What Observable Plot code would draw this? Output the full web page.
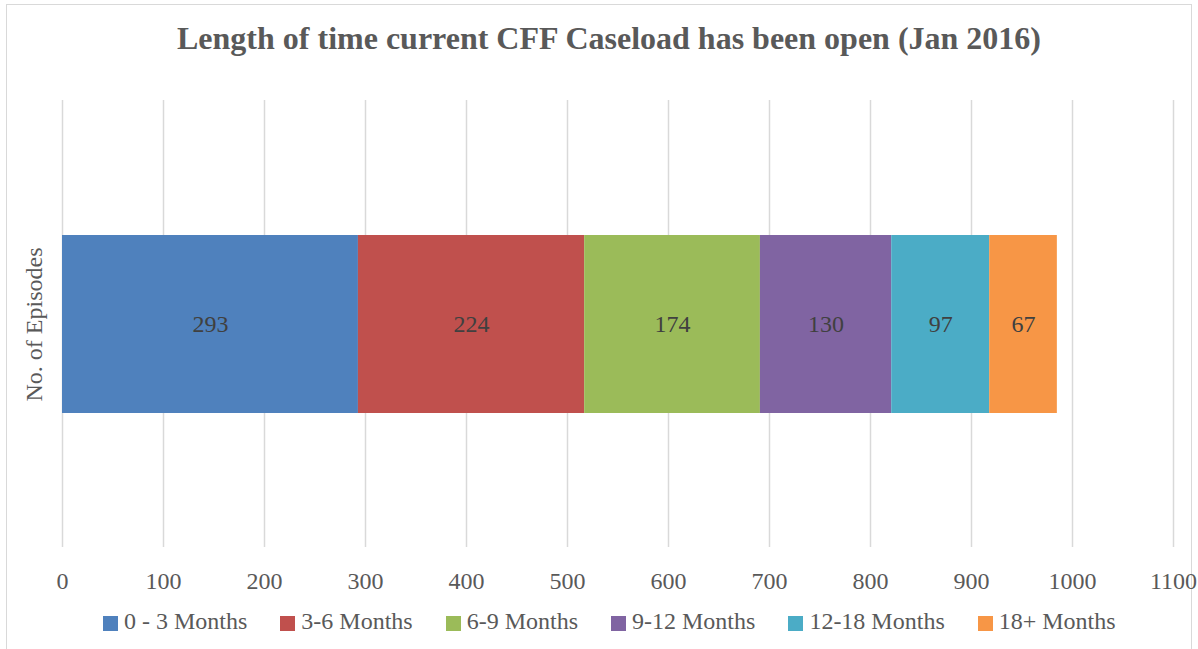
<!DOCTYPE html>
<html>
<head>
<meta charset="utf-8">
<script src="https://cdn.jsdelivr.net/npm/d3@7"></script>
<script src="https://cdn.jsdelivr.net/npm/@observablehq/plot@0.6"></script>
<style>
  html, body { margin: 0; padding: 0; background: #fff; }
  #page { position: relative; width: 1198px; height: 649px; overflow: hidden; font-family: "Liberation Serif", "Times New Roman", serif; }
  #frame { position: absolute; left: 6px; top: 4px; width: 1186px; height: 700px; border: 1.5px solid #d9d9d9; box-sizing: border-box; }
  #title { position: absolute; left: 0; width: 1218px; top: 20px; text-align: center; font-weight: bold; font-size: 32px; color: #595959; white-space: nowrap; }
  #chart { position: absolute; left: 0; top: 90px; }
  #legend { position: absolute; left: 103px; top: 608px; display: flex; align-items: center; font-size: 24px; color: #595959; white-space: nowrap; }
  .item { display: flex; align-items: center; margin-right: 33px; }
  .sw { width: 15px; height: 15px; margin-right: 6px; margin-top: 3px; }
</style>
</head>
<body>
<div id="page">
  <div id="frame"></div>
  <div id="title"></div>
  <div id="chart"></div>
  <div id="legend"></div>
</div>
<script>
const titleText = "Length of time current CFF Caseload has been open (Jan 2016)";
const rowLabel = ["No. of Episodes"];
const categories = ["0 - 3 Months", "3-6 Months", "6-9 Months", "9-12 Months", "12-18 Months", "18+ Months"];
const values = [293, 224, 174, 130, 97, 67];
const colors = ["#4F81BD", "#C0504D", "#9BBB59", "#8064A2", "#4BACC6", "#F79646"];
const xTicks = [0, 100, 200, 300, 400, 500, 600, 700, 800, 900, 1000, 1100];

document.getElementById("title").textContent = titleText;

const data = categories.map((c, i) => ({row: rowLabel[0], bucket: c, value: values[i]}));

const chart = Plot.plot({
  width: 1198,
  height: 510,
  marginLeft: 62,
  marginRight: 25,
  marginTop: 10,
  marginBottom: 53,
  style: {fontFamily: "'Liberation Serif', 'Times New Roman', serif", fontSize: "24px", color: "#595959", background: "transparent"},
  x: {domain: [0, 1100], ticks: xTicks},
  y: {domain: rowLabel, padding: 0.43},
  color: {domain: categories, range: colors},
  marks: [
    Plot.gridX(xTicks, {stroke: "#d9d9d9", strokeOpacity: 1, strokeWidth: 1.5}),
    Plot.barX(data, Plot.stackX({x: "value", y: "row", fill: "bucket", order: null})),
    Plot.text(data, Plot.stackX({x: "value", y: "row", z: "bucket", text: "value", order: null, fill: "#404040", fontSize: 24})),
    Plot.axisX(xTicks, {tickSize: 0, tickPadding: 24, tickFormat: d => String(d), label: null, fill: "#595959", fontSize: 24}),
    Plot.axisY({tickSize: 0, tickRotate: -90, tickPadding: 21, label: null, fill: "#595959", fontSize: 24})
  ]
});
document.getElementById("chart").appendChild(chart);

const legend = document.getElementById("legend");
categories.forEach((c, i) => {
  const item = document.createElement("div");
  item.className = "item";
  const sw = document.createElement("div");
  sw.className = "sw";
  sw.style.background = colors[i];
  const t = document.createElement("span");
  t.textContent = c;
  item.appendChild(sw);
  item.appendChild(t);
  legend.appendChild(item);
});
</script>
</body>
</html>
